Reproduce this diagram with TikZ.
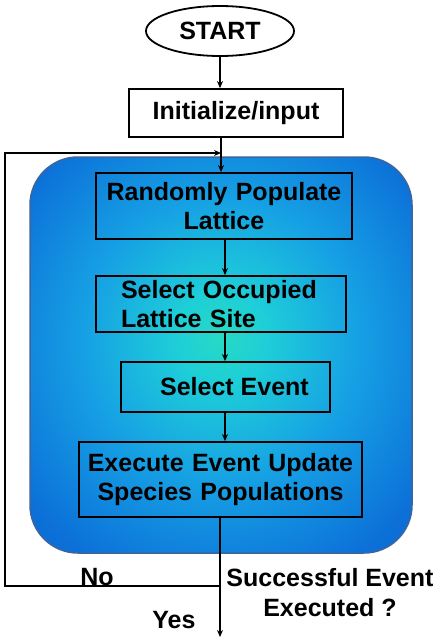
\documentclass[tikz,border=0pt]{standalone}
\usepackage{fontspec}
\setmainfont{Liberation Sans}
\usetikzlibrary{arrows.meta,shapes.geometric}
\definecolor{gc0}{RGB}{38,218,196}
\definecolor{gc1}{RGB}{30,206,216}
\definecolor{gc2}{RGB}{22,160,228}
\definecolor{gc3}{RGB}{12,112,216}
\definecolor{gc4}{RGB}{8,96,204}
\definecolor{edgeblue}{RGB}{62,100,158}
\pgfdeclareradialshading{glow}{\pgfpoint{0bp}{2.5bp}}{color(0bp)=(gc0); color(6bp)=(gc1); color(18bp)=(gc2); color(32bp)=(gc3); color(50bp)=(gc4); color(75bp)=(gc4)}
\tikzset{
  box/.style={draw=black, line width=1.8pt, inner sep=0pt, font=\fontsize{25}{29}\selectfont\bfseries},
  lbl/.style={inner sep=0pt, font=\fontsize{25}{30}\selectfont\bfseries},
  arr/.style={line width=1.2pt, -{Stealth[length=7pt,width=6pt]}},
  ln/.style={line width=1.2pt},
}
\begin{document}
\begin{tikzpicture}[x=1pt,y=-1pt]
\useasboundingbox (0,0) rectangle (442,641);
% blue panel
\shade[shading=glow, rounded corners=48pt] (30,157) rectangle (412,553);
\draw[edgeblue, line width=1.5pt, rounded corners=48pt] (30,157) rectangle (412,553);
% nodes
\node[ellipse, draw=black, line width=1.8pt, minimum width=148pt, minimum height=50pt, inner sep=0pt, font=\fontsize{25}{29}\selectfont\bfseries] (start) at (220,31) {START};
\node[box, minimum width=214pt, minimum height=48pt] (init) at (236,113) {Initialize/input};
\node[box, minimum width=256pt, minimum height=66pt, text width=240pt, align=center] (rand) at (224,206) {Randomly Populate\\Lattice};
\node[box, minimum width=250pt, minimum height=56pt, text width=200pt, inner xsep=25pt, align=left] (occ) at (221,304) {Select Occupied\\Lattice Site};
\node[box, minimum width=209pt, minimum height=50pt] (sel) at (225.5,387) {\hspace{18pt}Select Event};
\node[box, minimum width=283pt, minimum height=75pt, text width=275pt, align=center] (exec) at (220.5,479.5) {Execute Event Update\\Species Populations};
% labels
\node[lbl] (no) at (97,577) {No};
\node[lbl, align=center] (succ) at (330,593) {Successful Event\\Executed ?};
\node[lbl] (yes) at (174,620) {Yes};
% coordinates
\coordinate (joinpt) at (221,153);
\coordinate (mid) at (225,0);
\coordinate (split) at (220,586);
\coordinate (loopx) at (5,0);
\coordinate (yesend) at (220,637);
% connectors
\draw[arr] (start.south) -- (start.south |- init.north);
\draw[arr] (init.south -| joinpt) -- (rand.north -| joinpt);
\draw[arr] (rand.south -| mid) -- (occ.north -| mid);
\draw[arr] (occ.south -| mid) -- (sel.north -| mid);
\draw[arr] (sel.south -| mid) -- (exec.north -| mid);
\draw[ln] (exec.south -| split) -- (split);
\draw[arr] (split) -- (yesend);
\draw[arr] (split) -- (split -| loopx) |- (joinpt);
\end{tikzpicture}
\end{document}
